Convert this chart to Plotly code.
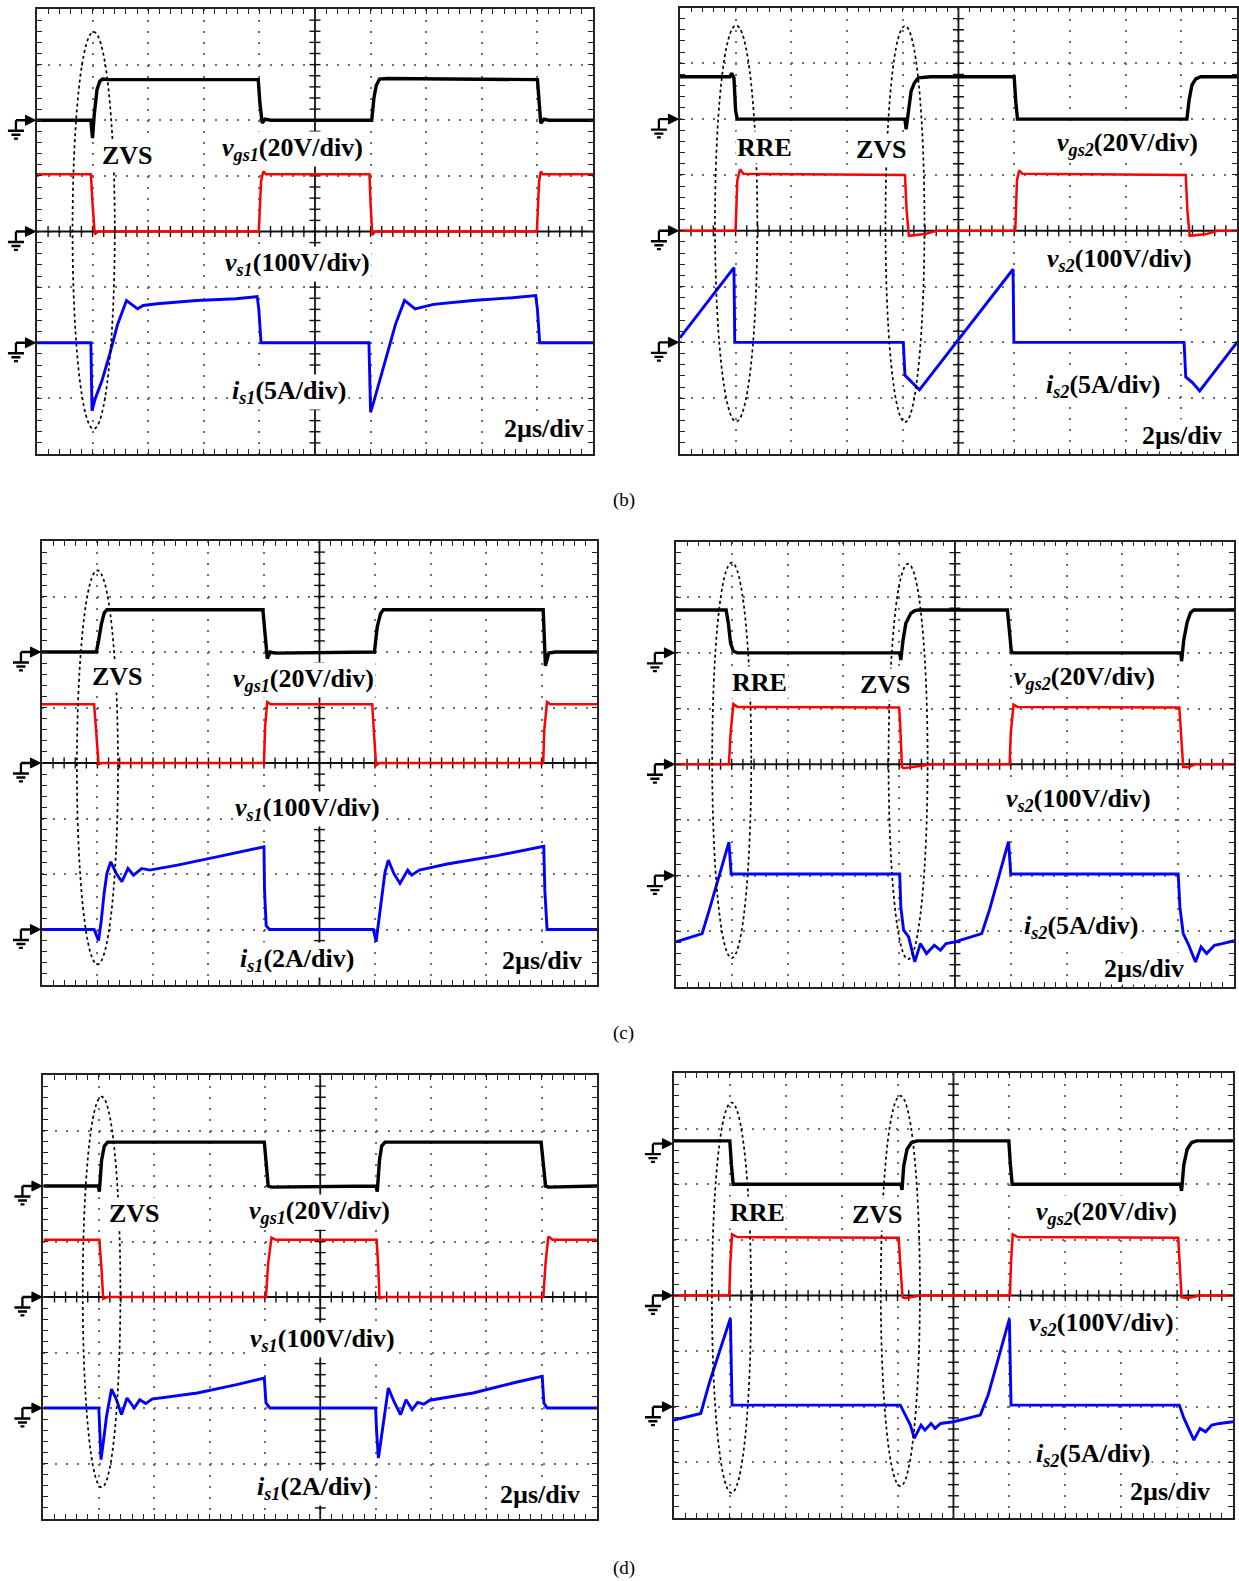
import numpy as np
import plotly.graph_objects as go

# ------------------------------------------------------------------
# Waveform data.
# Time in divisions (2 us/div, 0..10), amplitude in divisions (-4..4)
# ------------------------------------------------------------------
# (b) left : vgs1 / vs1 / is1
b1_vgs_t = [0, 0.97, 1.0, 1.03, 1.08, 1.13, 1.18, 1.3, 3.98, 4.01, 4.05, 4.1, 4.2, 6.02, 6.06, 6.1, 6.16, 6.3, 9.0, 9.03, 9.06, 9.12, 9.2, 10]
b1_vgs   = [2.0, 2.0, 1.68, 2.1, 2.55, 2.7, 2.74, 2.73, 2.73, 2.3, 1.95, 2.02, 2.0, 2.0, 2.4, 2.62, 2.74, 2.75, 2.73, 2.3, 1.95, 2.02, 2.0, 2.0]
b1_vs_t  = [0, 0.97, 1.0, 1.04, 1.1, 3.99, 4.03, 4.07, 4.12, 5.98, 6.0, 6.03, 6.08, 8.99, 9.03, 9.06, 9.1, 10]
b1_vs    = [1.03, 1.03, 0.5, -0.05, 0.0, 0.0, 0.9, 1.08, 1.03, 1.03, 0.5, -0.06, 0.0, 0.0, 0.9, 1.08, 1.03, 1.03]
b1_is_t  = [0, 0.97, 0.99, 1.05, 1.17, 1.31, 1.45, 1.61, 1.81, 1.91, 2.16, 2.87, 3.58, 3.96, 3.99, 4.03, 5.97, 6.0, 6.06, 6.13, 6.31, 6.45, 6.61, 6.8, 7.13, 7.84, 8.55, 8.97, 9.0, 9.04, 10]
b1_is    = [-2.0, -2.0, -3.22, -3.0, -2.68, -2.2, -1.67, -1.24, -1.39, -1.33, -1.3, -1.24, -1.21, -1.17, -1.4, -2.0, -2.0, -3.25, -3.05, -2.8, -2.2, -1.66, -1.24, -1.39, -1.31, -1.24, -1.19, -1.15, -1.4, -2.0, -2.0]

# (b) right : vgs2 / vs2 / is2
b2_vgs_t = [0, 0.9, 0.93, 0.97, 1.0, 1.03, 1.1, 4.04, 4.06, 4.1, 4.15, 4.21, 4.28, 4.5, 6.0, 6.03, 6.06, 6.12, 9.1, 9.14, 9.19, 9.26, 9.35, 10]
b2_vgs   = [2.76, 2.76, 2.82, 2.74, 2.15, 2.0, 2.0, 2.0, 1.82, 2.15, 2.5, 2.65, 2.74, 2.76, 2.76, 2.3, 2.0, 2.0, 2.0, 2.34, 2.61, 2.72, 2.76, 2.76]
b2_vs_t  = [0, 1.0, 1.03, 1.08, 1.14, 4.04, 4.07, 4.11, 4.4, 4.6, 6.02, 6.05, 6.09, 6.15, 9.08, 9.11, 9.15, 9.45, 9.65, 10]
b2_vs    = [0.0, 0.0, 0.9, 1.1, 1.02, 1.0, 0.36, -0.09, -0.06, 0.0, 0.0, 0.9, 1.08, 1.02, 1.0, 0.36, -0.09, -0.06, 0.0, 0.0]
b2_is_t  = [0, 0.97, 0.985, 4.01, 4.04, 4.17, 4.3, 5.98, 5.995, 9.05, 9.08, 9.2, 9.33, 10]
b2_is    = [-1.92, -0.66, -2.0, -2.0, -2.59, -2.72, -2.85, -0.69, -2.0, -2.0, -2.62, -2.72, -2.87, -2.0]

# (c) left
c1_vgs_t = [0, 0.98, 1.02, 1.07, 1.12, 1.17, 3.98, 4.01, 4.04, 4.06, 4.11, 4.2, 5.99, 6.04, 6.1, 6.15, 9.03, 9.06, 9.07, 9.13, 9.25, 10]
c1_vgs   = [2.0, 2.0, 2.2, 2.5, 2.7, 2.76, 2.76, 2.45, 2.0, 1.88, 2.0, 1.98, 2.0, 2.45, 2.69, 2.76, 2.76, 2.1, 1.75, 1.98, 2.0, 2.0]
c1_vs_t  = [0, 0.94, 0.98, 1.02, 1.08, 4.0, 4.02, 4.06, 4.12, 5.95, 5.99, 6.02, 6.08, 9.03, 9.05, 9.1, 9.16, 10]
c1_vs    = [1.06, 1.06, 0.53, -0.02, 0.0, 0.0, 0.65, 1.1, 1.06, 1.06, 0.41, -0.04, 0.0, 0.0, 0.6, 1.1, 1.06, 1.06]
c1_is_t  = [0, 0.94, 1.02, 1.07, 1.12, 1.17, 1.24, 1.34, 1.44, 1.55, 1.65, 1.8, 1.94, 2.44, 3.15, 4.0, 4.01, 4.04, 4.1, 5.97, 6.02, 6.07, 6.13, 6.18, 6.24, 6.34, 6.45, 6.59, 6.66, 6.8, 7.3, 8.2, 9.04, 9.06, 9.1, 10]
c1_is    = [-3.0, -3.0, -3.2, -2.83, -2.35, -1.99, -1.78, -1.99, -2.14, -1.9, -2.02, -1.9, -1.93, -1.84, -1.69, -1.51, -2.3, -2.93, -3.0, -3.0, -3.22, -2.83, -2.3, -1.97, -1.75, -1.99, -2.17, -1.93, -2.02, -1.93, -1.82, -1.67, -1.5, -2.3, -3.0, -3.0]

# (c) right
c2_vgs_t = [0, 0.9, 0.94, 0.98, 1.03, 1.1, 4.01, 4.03, 4.07, 4.12, 4.21, 4.28, 4.35, 5.94, 5.98, 6.01, 6.05, 9.05, 9.06, 9.1, 9.16, 9.22, 9.28, 10]
c2_vgs   = [2.77, 2.77, 2.53, 2.17, 2.03, 2.0, 2.0, 1.87, 2.23, 2.53, 2.71, 2.76, 2.77, 2.77, 2.35, 2.02, 2.0, 2.0, 1.85, 2.23, 2.55, 2.72, 2.77, 2.77]
c2_vs_t  = [0, 0.95, 0.98, 1.03, 1.1, 4.0, 4.02, 4.05, 4.08, 4.35, 4.6, 5.98, 6.0, 6.05, 6.12, 9.02, 9.06, 9.09, 9.2, 9.3, 10]
c2_vs    = [0.0, 0.0, 0.56, 1.08, 1.03, 1.02, 0.68, -0.05, -0.07, -0.03, 0.0, 0.0, 0.56, 1.07, 1.03, 1.02, 0.5, -0.05, -0.05, 0.0, 0.0]
c2_is_t  = [0, 0.47, 0.6, 0.74, 0.88, 0.95, 0.99, 4.01, 4.03, 4.08, 4.17, 4.28, 4.38, 4.49, 4.63, 4.74, 4.84, 5.0, 5.48, 5.62, 5.96, 6.0, 9.0, 9.03, 9.09, 9.19, 9.31, 9.41, 9.51, 9.65, 9.79, 10]
c2_is    = [-3.19, -3.04, -2.61, -2.13, -1.65, -1.4, -1.97, -1.97, -2.56, -2.98, -3.1, -3.55, -3.22, -3.4, -3.25, -3.34, -3.22, -3.19, -3.04, -2.61, -1.39, -1.97, -1.97, -2.56, -3.04, -3.25, -3.55, -3.28, -3.4, -3.25, -3.22, -3.17]

# (d) left
d1_vgs_t = [0, 0.99, 1.01, 1.05, 1.1, 1.16, 3.99, 4.02, 4.06, 4.12, 6.01, 6.03, 6.07, 6.11, 6.17, 8.99, 9.03, 9.07, 9.12, 10]
d1_vgs   = [2.0, 2.0, 1.9, 2.46, 2.72, 2.79, 2.79, 2.4, 2.0, 1.98, 2.0, 1.9, 2.46, 2.72, 2.79, 2.79, 2.4, 2.0, 1.98, 2.0]
d1_vs_t  = [0, 1.01, 1.05, 1.08, 1.15, 4.02, 4.06, 4.12, 4.2, 6.02, 6.05, 6.07, 6.15, 9.03, 9.07, 9.12, 9.2, 10]
d1_vs    = [1.03, 1.03, 0.49, -0.03, 0.0, 0.0, 0.61, 1.07, 1.03, 1.03, 0.5, -0.02, 0.0, 0.0, 0.61, 1.09, 1.03, 1.03]
d1_is_t  = [0, 1.0, 1.02, 1.04, 1.08, 1.14, 1.23, 1.32, 1.41, 1.51, 1.64, 1.74, 1.85, 1.96, 2.78, 3.49, 3.99, 4.02, 4.09, 6.0, 6.02, 6.05, 6.09, 6.16, 6.23, 6.34, 6.45, 6.55, 6.66, 6.76, 6.87, 6.98, 7.76, 8.48, 9.01, 9.04, 9.1, 10]
d1_is    = [-2.0, -2.0, -2.45, -2.93, -2.63, -2.15, -1.66, -1.85, -2.12, -1.82, -2.0, -1.85, -1.92, -1.84, -1.73, -1.58, -1.46, -1.91, -2.0, -2.0, -2.45, -2.9, -2.63, -2.15, -1.64, -1.9, -2.12, -1.85, -2.03, -1.9, -1.93, -1.86, -1.73, -1.55, -1.43, -1.91, -2.0, -2.0]

# (d) right
d2_vgs_t = [0, 1.0, 1.03, 1.06, 1.12, 4.06, 4.08, 4.11, 4.17, 4.25, 4.35, 5.99, 6.02, 6.05, 6.1, 9.06, 9.08, 9.12, 9.18, 9.26, 9.35, 10]
d2_vgs   = [2.78, 2.78, 2.33, 2.0, 2.0, 2.0, 1.9, 2.33, 2.63, 2.75, 2.78, 2.78, 2.33, 2.0, 2.0, 2.0, 1.88, 2.35, 2.63, 2.75, 2.78, 2.78]
d2_vs_t  = [0, 0.99, 1.01, 1.04, 1.13, 4.02, 4.05, 4.09, 4.14, 4.4, 6.01, 6.03, 6.06, 6.15, 9.02, 9.05, 9.08, 9.18, 9.4, 10]
d2_vs    = [0.0, 0.0, 0.6, 1.1, 1.05, 1.04, 0.54, -0.03, -0.05, 0.0, 0.0, 0.6, 1.1, 1.05, 1.04, 0.54, -0.03, -0.05, 0.0, 0.0]
d2_is_t  = [0, 0.48, 0.64, 0.78, 0.92, 1.01, 1.04, 4.05, 4.14, 4.23, 4.3, 4.42, 4.49, 4.6, 4.67, 4.77, 5.0, 5.48, 5.62, 6.0, 6.03, 9.04, 9.12, 9.21, 9.3, 9.41, 9.51, 9.62, 9.76, 10]
d2_is    = [-2.24, -2.12, -1.55, -1.13, -0.72, -0.41, -1.97, -1.97, -2.15, -2.33, -2.57, -2.33, -2.42, -2.3, -2.39, -2.3, -2.27, -2.15, -1.79, -0.42, -1.97, -1.97, -2.2, -2.39, -2.6, -2.39, -2.45, -2.33, -2.3, -2.27]

# Channel reference (ground) levels, in divisions
b1_gnd = [2.0, 0.0, -2.0]
b2_gnd = [2.0, 0.0, -2.0]
c1_gnd = [2.0, 0.0, -3.0]
c2_gnd = [2.0, 0.0, -2.0]
d1_gnd = [2.0, 0.0, -2.0]
d2_gnd = [2.73, 0.0, -2.0]

# ------------------------------------------------------------------
W, H = 1239, 1581
FONT = "Liberation Serif, Times New Roman, serif"
BLACK, RED, BLUE = "#000000", "#ff0000", "#0000ff"

VGS1 = "<b><i>v</i><sub><i>gs1</i></sub>(20V/div)</b>"
VGS2 = "<b><i>v</i><sub><i>gs2</i></sub>(20V/div)</b>"
VS1 = "<b><i>v</i><sub><i>s1</i></sub>(100V/div)</b>"
VS2 = "<b><i>v</i><sub><i>s2</i></sub>(100V/div)</b>"
IS1_5 = "<b><i>i</i><sub><i>s1</i></sub>(5A/div)</b>"
IS1_2 = "<b><i>i</i><sub><i>s1</i></sub>(2A/div)</b>"
IS2_5 = "<b><i>i</i><sub><i>s2</i></sub>(5A/div)</b>"
TB = "<b>2µs/div</b>"
ZVS = "<b>ZVS</b>"
RRE = "<b>RRE</b>"

panels = [
    dict(box=(37, 594, 9, 454),
         tr=[(b1_vgs_t, b1_vgs), (b1_vs_t, b1_vs), (b1_is_t, b1_is)], gnd=b1_gnd,
         labels=[(ZVS, 1.63, 1.37), (VGS1, 4.6, 1.49), (VS1, 4.68, -0.58), (IS1_5, 4.54, -2.89), (TB, 9.11, -3.55)],
         ell=[(1.02, 0.02, 0.38, 3.57)]),
    dict(box=(681, 1239, 7.5, 454),
         tr=[(b2_vgs_t, b2_vgs), (b2_vs_t, b2_vs), (b2_is_t, b2_is)], gnd=b2_gnd,
         labels=[(RRE, 1.52, 1.50), (ZVS, 3.61, 1.46), (VGS2, 8.03, 1.56), (VS2, 7.89, -0.53), (IS2_5, 7.6, -2.78), (TB, 9.02, -3.66)],
         ell=[(1.01, 0.13, 0.38, 3.55), (4.04, 0.12, 0.35, 3.55)]),
    dict(box=(42, 598, 541, 985),
         tr=[(c1_vgs_t, c1_vgs), (c1_vs_t, c1_vs), (c1_is_t, c1_is)], gnd=c1_gnd,
         labels=[(ZVS, 1.37, 1.55), (VGS1, 4.71, 1.49), (VS1, 4.78, -0.82), (IS1_2, 4.6, -3.55), (TB, 9.0, -3.55)],
         ell=[(1.0, -0.08, 0.37, 3.55)]),
    dict(box=(677, 1236, 541.5, 987),
         tr=[(c2_vgs_t, c2_vgs), (c2_vs_t, c2_vs), (c2_is_t, c2_is)], gnd=c2_gnd,
         labels=[(RRE, 1.49, 1.46), (ZVS, 3.75, 1.43), (VGS2, 7.32, 1.55), (VS2, 7.21, -0.64), (IS2_5, 7.25, -2.92), (TB, 8.38, -3.67)],
         ell=[(1.0, 0.07, 0.35, 3.55), (4.16, 0.05, 0.35, 3.55)]),
    dict(box=(43.5, 598, 1075, 1519),
         tr=[(d1_vgs_t, d1_vgs), (d1_vs_t, d1_vs), (d1_is_t, d1_is)], gnd=d1_gnd,
         labels=[(ZVS, 1.64, 1.51), (VGS1, 4.99, 1.54), (VS1, 5.05, -0.77), (IS1_2, 4.88, -3.44), (TB, 8.97, -3.56)],
         ell=[(1.05, 0.09, 0.34, 3.52)]),
    dict(box=(675, 1235, 1073, 1518),
         tr=[(d2_vgs_t, d2_vgs), (d2_vs_t, d2_vs), (d2_is_t, d2_is)], gnd=d2_gnd,
         labels=[(RRE, 1.49, 1.49), (ZVS, 3.64, 1.46), (VGS2, 7.74, 1.49), (VS2, 7.64, -0.51), (IS2_5, 7.5, -2.87), (TB, 8.88, -3.52)],
         ell=[(1.03, -0.04, 0.35, 3.51), (4.05, 0.08, 0.35, 3.51)]),
]

captions = [("(b)", 625, 500), ("(c)", 625, 1033), ("(d)", 625, 1568)]

fig = go.Figure()
layout = dict(width=W, height=H, margin=dict(l=0, r=0, t=0, b=0),
              paper_bgcolor="white", plot_bgcolor="white", showlegend=False,
              font=dict(family=FONT, size=26, color=BLACK))
shapes, annotations = [], []

GRID = dict(showgrid=True, gridcolor="#6e6e6e", gridwidth=1.6, griddash="2px,9.1px",
            showline=True, linecolor="#222222", linewidth=1.8, mirror="ticks",
            ticks="inside", ticklen=5, tickwidth=1.3, tickcolor="#222222",
            showticklabels=False, zeroline=False, fixedrange=True,
            minor=dict(ticks="inside", ticklen=5, tickwidth=1.3, tickcolor="#222222", showgrid=False, dtick=0.2))

colors = [BLACK, RED, BLUE]
widths = [3.4, 2.5, 2.9]

for i, p in enumerate(panels):
    n = "" if i == 0 else str(i + 1)
    xa, ya = "x" + n, "y" + n
    px0, px1, py0, py1 = p["box"]
    layout["xaxis" + n] = dict(GRID, domain=[px0 / W, min(px1 / W, 1.0)], range=[0, 10],
                                dtick=1, tick0=0, anchor=ya)
    layout["yaxis" + n] = dict(GRID, domain=[1 - py1 / H, 1 - py0 / H], range=[-4, 4],
                                dtick=1, tick0=0, anchor=xa)

    # centre cross-hair lines
    shapes.append(dict(type="line", xref=xa, yref=ya, x0=0, x1=10, y0=0, y1=0,
                       line=dict(color="#111111", width=1.8), layer="between"))
    shapes.append(dict(type="line", xref=xa, yref=ya, x0=5, x1=5, y0=-4, y1=4,
                       line=dict(color="#111111", width=1.8), layer="between"))
    # cross-hair graticule ticks
    hx = 5.5 / ((px1 - px0) / 10.0)
    hy = 5.5 / ((py1 - py0) / 8.0)
    gx, gy = [], []
    for t in np.arange(0.2, 10.0, 0.2):
        gx += [t, t, None]
        gy += [-hy, hy, None]
    for v in np.arange(-3.8, 4.0, 0.2):
        gx += [5 - hx, 5 + hx, None]
        gy += [v, v, None]
    fig.add_trace(go.Scatter(x=gx, y=gy, mode="lines", xaxis=xa, yaxis=ya,
                             line=dict(color="#111111", width=1.4), hoverinfo="skip"))

    # waveforms
    for (tt, vv), c, w in zip(p["tr"], colors, widths):
        fig.add_trace(go.Scatter(x=tt, y=vv, mode="lines", xaxis=xa, yaxis=ya,
                                 line=dict(color=c, width=w), hoverinfo="skip"))

    # ground markers
    for lvl in p["gnd"]:
        common = dict(xref=xa + " domain", yref=ya, xsizemode="pixel", ysizemode="pixel",
                      xanchor=0, yanchor=lvl, layer="above")
        shapes.append(dict(common, type="path",
                           path="M -21 0 L -10 0 M -21 0 L -21 -10.5 "
                                "M -29 -10.5 L -13 -10.5 M -25.5 -14.5 L -16.5 -14.5 M -23 -18.3 L -19 -18.3",
                           line=dict(color=BLACK, width=2.3)))
        shapes.append(dict(common, type="path", path="M -11.5 5 L -1.5 0 L -11.5 -5 Z",
                           fillcolor=BLACK, line=dict(color=BLACK, width=1)))

    # dashed ellipses
    for cx, cy, hw, hh in p["ell"]:
        shapes.append(dict(type="circle", xref=xa, yref=ya, x0=cx - hw, x1=cx + hw,
                           y0=cy - hh, y1=cy + hh, layer="above",
                           line=dict(color=BLACK, width=1.7, dash="3px,3px")))

    # labels
    for txt, lx, ly in p["labels"]:
        annotations.append(dict(text=txt, x=lx, y=ly, xref=xa, yref=ya, showarrow=False,
                                xanchor="center", yanchor="middle", bgcolor="white", borderpad=1,
                                font=dict(family=FONT, size=26, color=BLACK)))

for txt, cx, cy in captions:
    annotations.append(dict(text=txt, x=cx / W, y=1 - cy / H, xref="paper", yref="paper",
                            showarrow=False, xanchor="center", yanchor="middle",
                            font=dict(family=FONT, size=19, color=BLACK)))

layout["shapes"] = shapes
layout["annotations"] = annotations
fig.update_layout(**layout)

fig.write_html("out.html", config={"displayModeBar": False},
               post_script="document.body.style.margin='0px';")
